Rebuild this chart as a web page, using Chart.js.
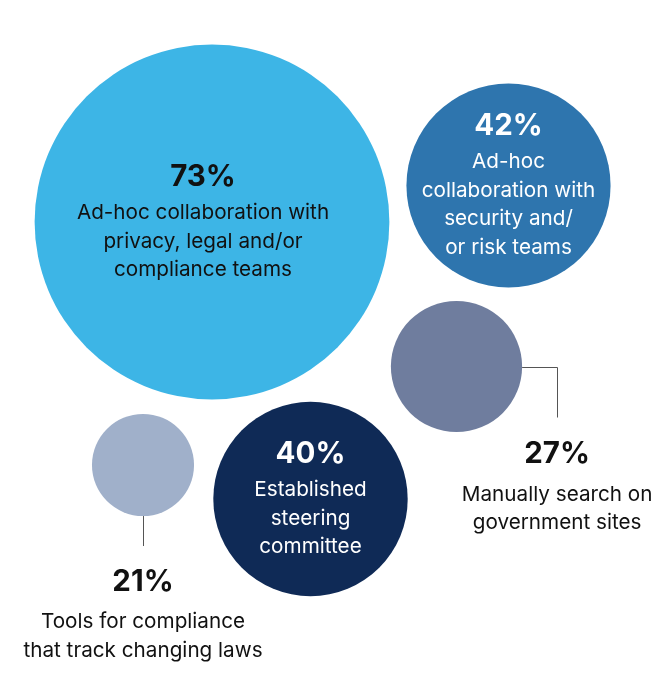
<!DOCTYPE html>
<html>
<head>
<meta charset="utf-8">
<script src="https://cdn.jsdelivr.net/npm/chart.js@4/dist/chart.umd.min.js"></script>
<style>
  html, body { margin: 0; padding: 0; background: #ffffff; }
  #wrap { width: 665px; height: 678px; position: relative; }
</style>
</head>
<body>
<div id="wrap"><canvas id="c"></canvas></div>
<script>
// ---- data ----
const categories = [
  "Ad-hoc collaboration with privacy, legal and/or compliance teams",
  "Ad-hoc collaboration with security and/or risk teams",
  "Manually search on government sites",
  "Established steering committee",
  "Tools for compliance that track changing laws"
];
const values = [73, 42, 27, 40, 21];
const labelLines = [
  ["Ad-hoc collaboration with", "privacy, legal and/or", "compliance teams"],
  ["Ad-hoc", "collaboration with", "security and/", "or risk teams"],
  ["Manually search on", "government sites"],
  ["Established", "steering", "committee"],
  ["Tools for compliance", "that track changing laws"]
];

// ---- layout (bubble centres in layout units, label placement) ----
const layoutX = [212, 508.5, 456.5, 310.5, 143];
const layoutY = [222, 185.5, 366.5, 499, 465];
const labelMode = ["inside", "inside", "right", "inside", "below"];
const textShiftX = [-9, 0, 0, 0, 0];
const colors = ["#3db5e6", "#2e75ae", "#6f7d9e", "#0f2a56", "#a0b0ca"];
const textColors = ["#111111", "#ffffff", "#111111", "#ffffff", "#111111"];
const RADIUS_PER_POINT = 2.43;

const points = values.map((v, i) => ({ x: layoutX[i], y: layoutY[i], r: v * RADIUS_PER_POINT, v: v }));

const FONT = "Inter, 'Noto Sans', sans-serif";

const labelPlugin = {
  id: 'bubbleLabels',
  afterDatasetsDraw(chart) {
    const ctx = chart.ctx;
    const meta = chart.getDatasetMeta(0);
    ctx.save();
    ctx.textAlign = 'center';
    ctx.textBaseline = 'middle';
    meta.data.forEach((el, i) => {
      const cx = el.x, cy = el.y, r = el.options.radius;
      const lines = labelLines[i];
      const n = lines.length;
      let tx, ty;
      if (labelMode[i] === 'inside') {
        tx = cx + textShiftX[i];
        ty = cy + 1 - (35 + (n - 1) * 28.5) / 2;
      } else if (labelMode[i] === 'right') {
        const lx = cx + r + 35;
        ctx.strokeStyle = '#555555';
        ctx.lineWidth = 1;
        ctx.beginPath();
        ctx.moveTo(cx + r, Math.round(cy) + 0.5);
        ctx.lineTo(Math.round(lx) + 0.5, Math.round(cy) + 0.5);
        ctx.lineTo(Math.round(lx) + 0.5, cy + 51);
        ctx.stroke();
        tx = lx;
        ty = cy + 88;
      } else {
        ctx.strokeStyle = '#555555';
        ctx.lineWidth = 1;
        ctx.beginPath();
        ctx.moveTo(Math.round(cx) + 0.5, cy + r);
        ctx.lineTo(Math.round(cx) + 0.5, cy + r + 30);
        ctx.stroke();
        tx = cx;
        ty = cy + r + 66;
      }
      const outside = labelMode[i] !== 'inside';
      ctx.fillStyle = textColors[i];
      ctx.font = "bold 29.5px " + FONT;
      ctx.fillText(values[i] + "%", tx, ty);
      ctx.font = "20.7px " + FONT;
      const gap = outside ? 40 : 36;
      lines.forEach((ln, k) => {
        ctx.fillText(ln, tx, ty + gap + k * 28.5);
      });
    });
    ctx.restore();
  }
};

new Chart(document.getElementById('c'), {
  type: 'bubble',
  data: {
    labels: categories,
    datasets: [{
      data: points,
      backgroundColor: colors,
      borderWidth: 0,
      hoverBorderWidth: 0,
      clip: false
    }]
  },
  options: {
    responsive: true,
    maintainAspectRatio: false,
    animation: false,
    layout: { padding: 0, autoPadding: false },
    plugins: { legend: { display: false }, tooltip: { enabled: false } },
    events: [],
    scales: {
      x: { type: 'linear', min: 0, max: 665, display: false },
      y: { type: 'linear', min: 0, max: 678, reverse: true, display: false }
    }
  },
  plugins: [labelPlugin]
});
</script>
</body>
</html>
